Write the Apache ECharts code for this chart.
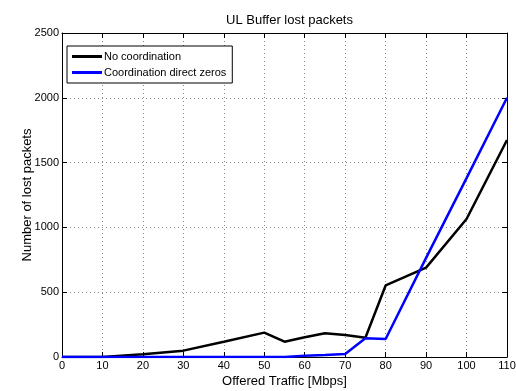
<!DOCTYPE html>
<html>
<head>
<meta charset="utf-8">
<script src="https://cdn.jsdelivr.net/npm/echarts@6/dist/echarts.min.js"></script>
<style>
html,body{margin:0;padding:0;background:#fff;}
#c{width:516px;height:391px;}
</style>
</head>
<body>
<div id="c"></div>
<script>
var titleText = 'UL Buffer lost packets';
var xName = 'Offered Traffic [Mbps]';
var yName = 'Number of lost packets';
var seriesNames = ['No coordination', 'Coordination direct zeros'];
var xValues = [0, 10, 20, 30, 40, 50, 55, 60, 65, 70, 75, 80, 90, 100, 110];
var noCoordination = [0, 0, 21, 49, 118, 188, 118, 152, 183, 170, 149, 552, 690, 1065, 1674];
var coordDirectZeros = [0, 0, 0, 0, 0, 0, 0, 10, 15, 23, 144, 139, 765, 1380, 2000];
var xTicks = [0, 10, 20, 30, 40, 50, 60, 70, 80, 90, 100, 110];
var yTicks = [0, 500, 1000, 1500, 2000, 2500];

function pairs(xs, ys) { return xs.map(function (x, i) { return [x, ys[i]]; }); }

var font = 'Liberation Sans, Arial, Helvetica, sans-serif';
var chart = echarts.init(document.getElementById('c'), null, {renderer: 'canvas'});
var gridStyle = {show: true, lineStyle: {type: [1, 3], color: '#888', width: 1}};
var axisLine = {show: true, onZero: false, lineStyle: {color: '#000', width: 1}};
var tick = {show: true, inside: true, length: 5, lineStyle: {color: '#000'}};
var xMin = xTicks[0], xMax = xTicks[xTicks.length - 1];
var yMin = yTicks[0], yMax = yTicks[yTicks.length - 1];
var xInt = xTicks[1] - xTicks[0], yInt = yTicks[1] - yTicks[0];
var plain = function (v) { return String(v); };

chart.setOption({
  animation: false,
  backgroundColor: '#fff',
  title: {
    text: titleText, left: 284.5, textAlign: 'center', top: 9,
    textStyle: {fontFamily: font, fontSize: 13, fontWeight: 'normal', color: '#000'}
  },
  grid: {left: 62, right: 9, top: 33, bottom: 34, containLabel: false, outerBoundsMode: 'none'},
  legend: {
    orient: 'vertical', left: 67, top: 46,
    data: seriesNames,
    backgroundColor: '#fff', borderColor: '#000', borderWidth: 1, borderRadius: 0,
    padding: [4, 6, 4, 5], itemGap: 3, itemWidth: 30, itemHeight: 3,
    icon: 'rect',
    textStyle: {fontFamily: font, fontSize: 11, color: '#000', padding: [0, 0, 0, -3], lineHeight: 13}
  },
  xAxis: [{
    type: 'value', min: xMin, max: xMax, interval: xInt, position: 'bottom',
    name: xName, nameLocation: 'middle', nameGap: 18, nameMoveOverlap: false,
    nameTextStyle: {fontFamily: font, fontSize: 13, color: '#000'},
    axisLine: axisLine, axisTick: tick, splitLine: gridStyle,
    axisLabel: {fontFamily: font, fontSize: 11, color: '#000', margin: 3, formatter: plain}
  }, {
    type: 'value', min: xMin, max: xMax, interval: xInt, position: 'top',
    axisLine: axisLine, axisTick: tick, splitLine: {show: false}, axisLabel: {show: false}
  }],
  yAxis: [{
    type: 'value', min: yMin, max: yMax, interval: yInt, position: 'left',
    name: yName, nameLocation: 'middle', nameGap: 28, nameMoveOverlap: false,
    nameTextStyle: {fontFamily: font, fontSize: 13, color: '#000'},
    axisLine: axisLine, axisTick: tick, splitLine: gridStyle,
    axisLabel: {fontFamily: font, fontSize: 11, color: '#000', margin: 3, formatter: plain}
  }, {
    type: 'value', min: yMin, max: yMax, interval: yInt, position: 'right',
    axisLine: axisLine, axisTick: tick, splitLine: {show: false}, axisLabel: {show: false}
  }],
  series: [{
    name: seriesNames[0], type: 'line', data: pairs(xValues, noCoordination),
    symbol: 'none', lineStyle: {color: '#000', width: 2.5}, itemStyle: {color: '#000'}, z: 3
  }, {
    name: seriesNames[1], type: 'line', data: pairs(xValues, coordDirectZeros),
    symbol: 'none', lineStyle: {color: '#0000ff', width: 2.5}, itemStyle: {color: '#0000ff'}, z: 4
  }]
});
</script>
</body>
</html>
